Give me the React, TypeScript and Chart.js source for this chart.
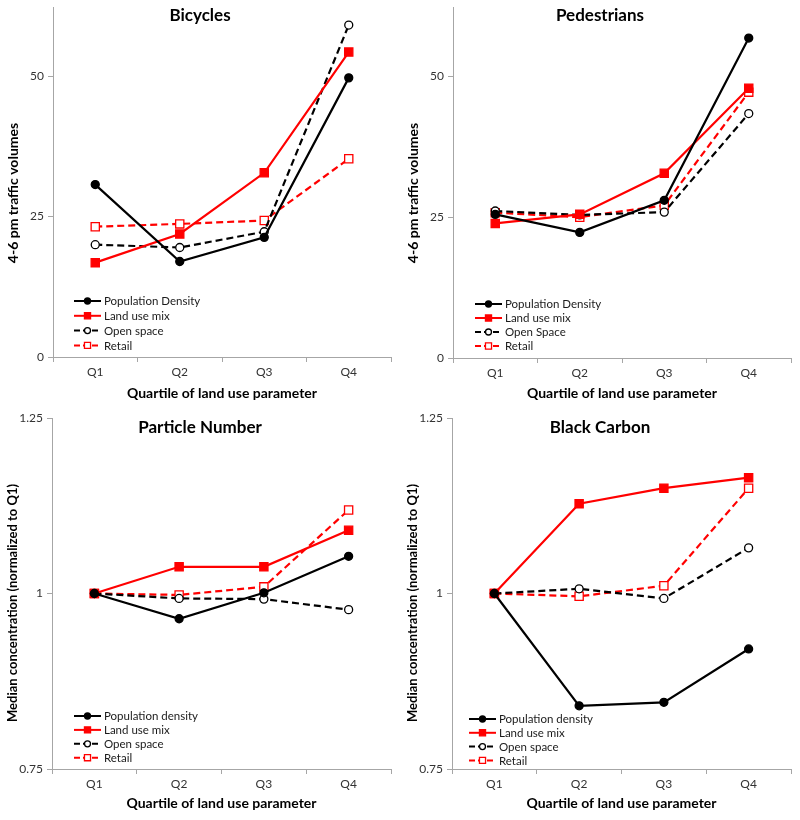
import React, { useEffect, useRef } from 'react';
import { Chart, registerables } from 'chart.js';

Chart.register(...registerables);

// ---- Data ----
const quartiles = ['Q1', 'Q2', 'Q3', 'Q4'];

const bicyclesNames = ['Population Density', 'Land use mix', 'Open space', 'Retail'];
const pedestrianNames = ['Population Density', 'Land use mix', 'Open Space', 'Retail'];
const pollutantNames = ['Population density', 'Land use mix', 'Open space', 'Retail'];

const bicyclesPopulation = [30.7, 17.0, 21.3, 49.7];
const bicyclesLandUse = [16.8, 21.9, 32.8, 54.3];
const bicyclesOpenSpace = [20.0, 19.5, 22.3, 59.1];
const bicyclesRetail = [23.2, 23.7, 24.3, 35.3];

const pedestriansPopulation = [25.5, 22.3, 28.0, 56.8];
const pedestriansLandUse = [23.9, 25.5, 32.8, 47.9];
const pedestriansOpenSpace = [26.1, 25.4, 25.9, 43.4];
const pedestriansRetail = [25.8, 25.0, 27.1, 47.2];

const particlePopulation = [1.0, 0.964, 1.001, 1.053];
const particleLandUse = [1.0, 1.038, 1.038, 1.09];
const particleOpenSpace = [1.0, 0.993, 0.992, 0.977];
const particleRetail = [1.0, 0.998, 1.0095, 1.119];

const carbonPopulation = [1.0, 0.84, 0.845, 0.921];
const carbonLandUse = [1.0, 1.128, 1.15, 1.165];
const carbonOpenSpace = [1.0, 1.0067, 0.993, 1.065];
const carbonRetail = [1.0, 0.996, 1.011, 1.15];

const trafficTicks = [0, 25, 50];
const concentrationTicks = [0.75, 1, 1.25];

const trafficTickLabels = ['0', '25', '50'];
const concentrationTickLabels = ['0.75', '1', '1.25'];

// ---- Styles / layout ----
const FONT = 'Lato, "Open Sans", sans-serif';
const RED = '#ff0000';
const BLACK = '#000000';
const AXIS = '#a6a6a6';

const seriesStyles = [
  { color: BLACK, dash: [] as number[], pointStyle: 'circle', fill: BLACK, radius: 4, lr: 3 },
  { color: RED, dash: [] as number[], pointStyle: 'rect', fill: RED, radius: 5.8, lr: 4.3 },
  { color: BLACK, dash: [7, 4], pointStyle: 'circle', fill: '#ffffff', radius: 4, lr: 3 },
  { color: RED, dash: [7, 4], pointStyle: 'rect', fill: '#ffffff', radius: 5.8, lr: 4.3 },
];

type Panel = {
  title: string;
  yTitle: string;
  yTitleSize: number;
  names: string[];
  series: number[][];
  min: number;
  max: number;
  ticks: number[];
  tickLabels: string[];
  layout: { left: number; right: number; top: number; bottom: number };
  legend: { x: number; y: number; gap: number };
  titleY: number;
};

const panels: Panel[] = [
  {
    title: 'Bicycles',
    yTitle: '4-6 pm traffic volumes',
    yTitleSize: 14,
    names: bicyclesNames,
    series: [bicyclesPopulation, bicyclesLandUse, bicyclesOpenSpace, bicyclesRetail],
    min: 0,
    max: 62.3,
    ticks: trafficTicks,
    tickLabels: trafficTickLabels,
    layout: { left: 53, right: 391, top: 5, bottom: 357 },
    legend: { x: 74, y: 301, gap: 14.8 },
    titleY: 16,
  },
  {
    title: 'Pedestrians',
    yTitle: '4-6 pm traffic volumes',
    yTitleSize: 14,
    names: pedestrianNames,
    series: [pedestriansPopulation, pedestriansLandUse, pedestriansOpenSpace, pedestriansRetail],
    min: 0,
    max: 62.3,
    ticks: trafficTicks,
    tickLabels: trafficTickLabels,
    layout: { left: 53, right: 391, top: 6, bottom: 358 },
    legend: { x: 75, y: 304, gap: 14 },
    titleY: 16,
  },
  {
    title: 'Particle Number',
    yTitle: 'Median concentration (normalized to Q1)',
    yTitleSize: 13,
    names: pollutantNames,
    series: [particlePopulation, particleLandUse, particleOpenSpace, particleRetail],
    min: 0.75,
    max: 1.25,
    ticks: concentrationTicks,
    tickLabels: concentrationTickLabels,
    layout: { left: 52, right: 391, top: 8, bottom: 359 },
    legend: { x: 74, y: 306, gap: 13.9 },
    titleY: 18,
  },
  {
    title: 'Black Carbon',
    yTitle: 'Median concentration (normalized to Q1)',
    yTitleSize: 13,
    names: pollutantNames,
    series: [carbonPopulation, carbonLandUse, carbonOpenSpace, carbonRetail],
    min: 0.75,
    max: 1.25,
    ticks: concentrationTicks,
    tickLabels: concentrationTickLabels,
    layout: { left: 52, right: 391, top: 8, bottom: 359 },
    legend: { x: 69, y: 309, gap: 13.8 },
    titleY: 18,
  },
];

const W = 400;
const H = 410;

function drawMarker(ctx: CanvasRenderingContext2D, style: typeof seriesStyles[number], x: number, y: number, r: number) {
  ctx.save();
  ctx.setLineDash([]);
  ctx.lineWidth = 1.3;
  ctx.strokeStyle = style.color;
  ctx.fillStyle = style.fill;
  ctx.beginPath();
  if (style.pointStyle === 'circle') {
    ctx.arc(x, y, r, 0, Math.PI * 2);
  } else {
    const s = r * Math.SQRT1_2;
    ctx.rect(x - s, y - s, 2 * s, 2 * s);
  }
  ctx.fill();
  ctx.stroke();
  ctx.restore();
}

function PanelChart({ panel }: { panel: Panel }) {
  const ref = useRef<HTMLCanvasElement | null>(null);

  useEffect(() => {
    if (!ref.current) return;
    const overlay = {
      id: 'overlay',
      afterDraw(chart: any) {
        const ctx: CanvasRenderingContext2D = chart.ctx;
        ctx.save();
        ctx.fillStyle = BLACK;
        ctx.textAlign = 'center';
        ctx.textBaseline = 'middle';
        ctx.font = `bold 17px ${FONT}`;
        ctx.fillText(panel.title, 200, panel.titleY);

        ctx.save();
        ctx.translate(13, 193);
        ctx.rotate(-Math.PI / 2);
        ctx.font = `bold ${panel.yTitleSize}px ${FONT}`;
        ctx.fillText(panel.yTitle, 0, 0);
        ctx.restore();

        // legend
        const lg = panel.legend;
        panel.names.forEach((name, i) => {
          const st = seriesStyles[i];
          const y = lg.y + i * lg.gap;
          ctx.save();
          ctx.strokeStyle = st.color;
          ctx.lineWidth = 2;
          ctx.setLineDash(st.dash.length ? [6, 3] : []);
          ctx.beginPath();
          ctx.moveTo(lg.x, y);
          ctx.lineTo(lg.x + 27, y);
          ctx.stroke();
          ctx.restore();
          drawMarker(ctx, st, lg.x + 13.5, y, st.lr);
          ctx.fillStyle = '#1a1a1a';
          ctx.textAlign = 'left';
          ctx.textBaseline = 'middle';
          ctx.font = `11.5px ${FONT}`;
          ctx.fillText(name, lg.x + 30, y + 0.5);
        });
        ctx.restore();
      },
    };

    const L = panel.layout;
    const chart = new Chart(ref.current, {
      type: 'line',
      data: {
        labels: quartiles,
        datasets: panel.series.map((values, i) => {
          const st = seriesStyles[i];
          return {
            label: panel.names[i],
            data: values,
            borderColor: st.color,
            borderWidth: 2.2,
            borderDash: st.dash,
            tension: 0,
            fill: false,
            pointStyle: st.pointStyle as any,
            pointRadius: st.radius,
            pointHoverRadius: st.radius,
            pointBackgroundColor: st.fill,
            pointBorderColor: st.color,
            pointBorderWidth: 1.3,
          };
        }),
      },
      options: {
        responsive: false,
        animation: false,
        devicePixelRatio: 1,
        events: [],
        layout: { padding: { top: L.top, right: W - L.right, left: 0, bottom: 0 } },
        plugins: {
          legend: { display: false },
          title: { display: false },
          tooltip: { enabled: false },
        },
        scales: {
          x: {
            type: 'category',
            offset: true,
            border: { display: true, color: AXIS, width: 1 },
            grid: {
              offset: true,
              drawOnChartArea: false,
              drawTicks: true,
              tickLength: 5,
              color: AXIS,
            },
            ticks: {
              color: '#333333',
              font: { family: FONT, size: 12 },
              padding: 3,
              maxRotation: 0,
            },
            title: {
              display: true,
              text: 'Quartile of land use parameter',
              color: BLACK,
              font: { family: FONT, size: 14, weight: 'bold' },
              padding: { top: 0, bottom: 8 },
            },
            afterFit: (s: any) => {
              s.height = H - L.bottom;
              s.paddingLeft = 0;
              s.paddingRight = 0;
            },
          },
          y: {
            type: 'linear',
            min: panel.min,
            max: panel.max,
            border: { display: true, color: AXIS, width: 1 },
            grid: {
              drawOnChartArea: false,
              drawTicks: true,
              tickLength: 5,
              color: AXIS,
            },
            ticks: {
              color: '#333333',
              font: { family: FONT, size: 12 },
              padding: 4,
              callback: (v: any) => {
                const idx = panel.ticks.findIndex((t) => Math.abs(t - Number(v)) < 1e-9);
                return idx >= 0 ? panel.tickLabels[idx] : '';
              },
            },
            afterBuildTicks: (s: any) => {
              s.ticks = panel.ticks.map((v) => ({ value: v }));
            },
            afterFit: (s: any) => {
              s.width = L.left;
              s.paddingTop = 0;
              s.paddingBottom = 0;
            },
          },
        },
      },
      plugins: [overlay],
    } as any);
    return () => chart.destroy();
  }, [panel]);

  return (
    <div style={{ width: W, height: H }}>
      <canvas ref={ref} width={W} height={H} style={{ display: 'block', width: W, height: H }} />
    </div>
  );
}

export default function App() {
  useEffect(() => {
    document.body.style.margin = '0';
    document.body.style.background = '#ffffff';
  }, []);
  return (
    <div
      style={{
        position: 'absolute',
        left: 0,
        top: 0,
        width: 800,
        height: 820,
        display: 'grid',
        gridTemplateColumns: '400px 400px',
        gridTemplateRows: '410px 410px',
        background: '#ffffff',
      }}
    >
      {panels.map((p) => (
        <PanelChart key={p.title} panel={p} />
      ))}
    </div>
  );
}
